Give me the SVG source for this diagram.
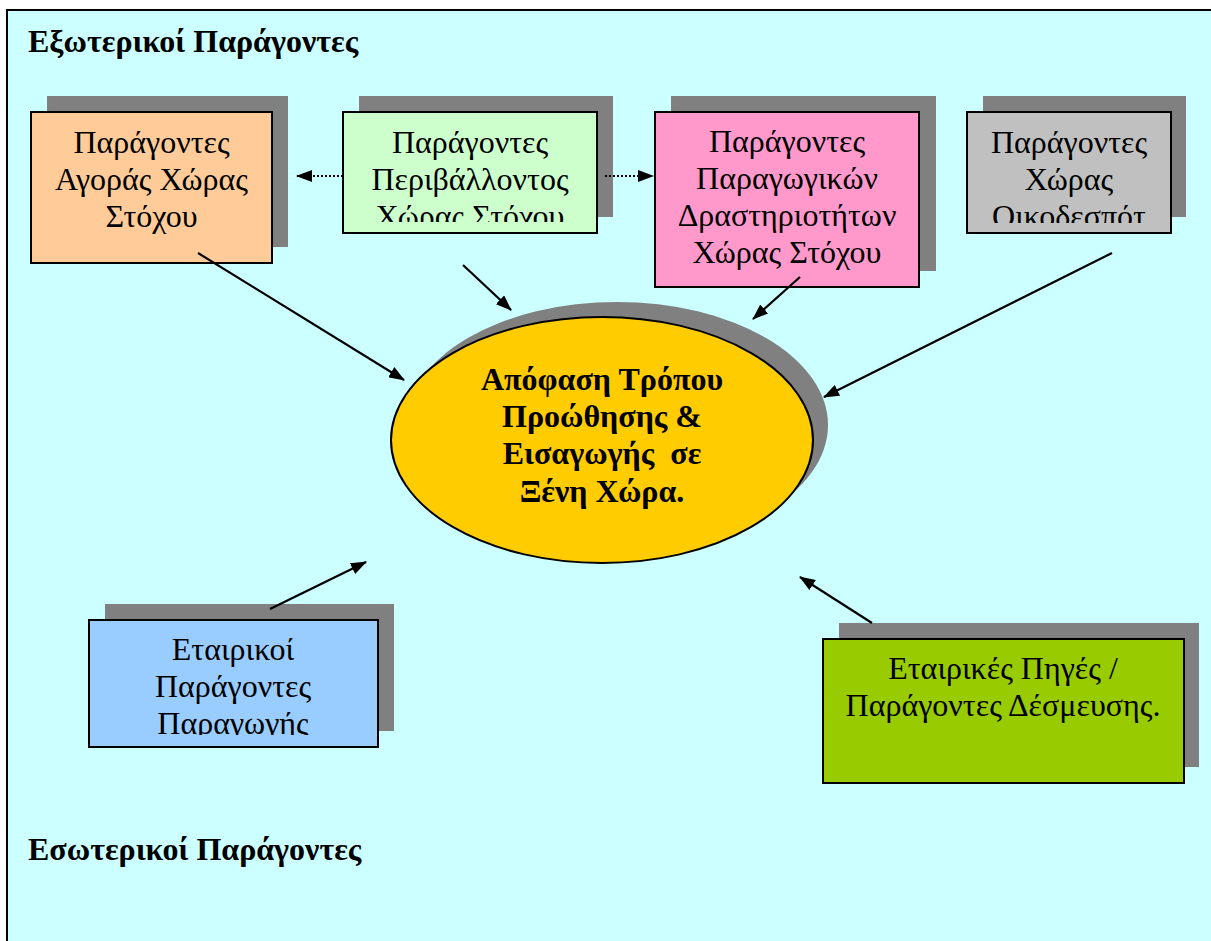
<svg xmlns="http://www.w3.org/2000/svg" width="1211" height="941" viewBox="0 0 1211 941">
<style>
.box{stroke:#000;stroke-width:2}
.shadow{fill:#808080}
.t{font-family:"Liberation Serif","Times New Roman",serif;font-size:32px;fill:#000;text-anchor:middle}
.b{font-family:"Liberation Serif","Times New Roman",serif;font-size:32px;font-weight:bold;fill:#000}
.c{stroke:#000;stroke-width:2.2;fill:none}
.d{stroke:#000;stroke-width:2;fill:none;stroke-dasharray:2 2}
</style>
<defs>
<marker id="ah" viewBox="0 0 16 12" refX="15" refY="6" markerWidth="16" markerHeight="12" markerUnits="userSpaceOnUse" orient="auto">
<path d="M0,0 L16,6 L0,12 Z" fill="#000"/>
</marker>
<clipPath id="cg"><rect x="343" y="112" width="254" height="110"/></clipPath>
<clipPath id="cy"><rect x="967" y="112" width="204" height="111"/></clipPath>
<clipPath id="cb"><rect x="89" y="620" width="289" height="115"/></clipPath>
</defs>
<rect x="7" y="10" width="1220" height="950" fill="#CCFFFF" stroke="#000" stroke-width="2"/>
<g id="label-ext"><text class="b" x="28" y="52" font-size="30">Εξωτερικοί Παράγοντες</text></g>
<g id="label-int"><text class="b" x="28" y="860" font-size="30">Εσωτερικοί Παράγοντες</text></g>
<g id="node-market">
<rect class="shadow" x="47" y="96" width="241" height="151"/>
<rect class="box" x="31" y="112" width="241" height="151" fill="#FFCC99"/>
<text class="t" x="151.5" y="153">Παράγοντες</text>
<text class="t" x="151.5" y="190">Αγοράς Χώρας</text>
<text class="t" x="151.5" y="227">Στόχου</text>
</g>
<g id="node-env">
<rect class="shadow" x="359" y="96" width="254" height="121"/>
<rect class="box" x="343" y="112" width="254" height="121" fill="#CCFFCC"/>
<g clip-path="url(#cg)">
<text class="t" x="470" y="153">Παράγοντες</text>
<text class="t" x="470" y="190">Περιβάλλοντος</text>
<text class="t" x="470" y="227">Χώρας Στόχου</text>
</g>
</g>
<g id="node-prod">
<rect class="shadow" x="671" y="96" width="265" height="175"/>
<rect class="box" x="655" y="112" width="264" height="175" fill="#FF99CC"/>
<text class="t" x="787" y="152">Παράγοντες</text>
<text class="t" x="787" y="189">Παραγωγικών</text>
<text class="t" x="787" y="226">Δραστηριοτήτων</text>
<text class="t" x="787" y="263">Χώρας Στόχου</text>
</g>
<g id="node-host">
<rect class="shadow" x="983" y="96" width="203" height="121"/>
<rect class="box" x="967" y="112" width="204" height="121" fill="#C0C0C0"/>
<g clip-path="url(#cy)">
<text class="t" x="1069" y="153">Παράγοντες</text>
<text class="t" x="1069" y="190">Χώρας</text>
<text class="t" x="1069" y="227">Οικοδεσπότ</text>
</g>
</g>
<g id="node-decision">
<ellipse cx="617" cy="425" rx="211" ry="123" fill="#808080"/>
<ellipse cx="602" cy="440" rx="211" ry="123" fill="#FFCC00" stroke="#000" stroke-width="2"/>
<text class="b" x="602" y="390" text-anchor="middle">Απόφαση Τρόπου</text>
<text class="b" x="602" y="427" text-anchor="middle">Προώθησης &amp;</text>
<text class="b" x="602" y="464" text-anchor="middle" xml:space="preserve">Εισαγωγής  σε</text>
<text class="b" x="602" y="502" text-anchor="middle">Ξένη Χώρα.</text>
</g>
<g id="node-company">
<rect class="shadow" x="105" y="604" width="289" height="127"/>
<rect class="box" x="89" y="620" width="289" height="127" fill="#99CCFF"/>
<g clip-path="url(#cb)">
<text class="t" x="233" y="660">Εταιρικοί</text>
<text class="t" x="233" y="697">Παράγοντες</text>
<text class="t" x="233" y="734">Παραγωγής</text>
</g>
</g>
<g id="node-resources">
<rect class="shadow" x="839" y="623" width="360" height="144"/>
<rect class="box" x="823" y="639" width="361" height="144" fill="#99CC00"/>
<text class="t" x="1003" y="679">Εταιρικές Πηγές /</text>
<text class="t" x="1003" y="716">Παράγοντες Δέσμευσης.</text>
</g>
<g id="connectors">
<line class="d" x1="343" y1="176" x2="297" y2="176" marker-end="url(#ah)"/>
<line class="d" x1="605" y1="176" x2="653" y2="176" marker-end="url(#ah)"/>
<line class="c" x1="198" y1="253" x2="404" y2="380" marker-end="url(#ah)"/>
<line class="c" x1="463" y1="265" x2="511" y2="310" marker-end="url(#ah)"/>
<line class="c" x1="800" y1="277" x2="753" y2="319" marker-end="url(#ah)"/>
<line class="c" x1="1112" y1="253" x2="824" y2="397" marker-end="url(#ah)"/>
<line class="c" x1="270" y1="609" x2="366" y2="562" marker-end="url(#ah)"/>
<line class="c" x1="872" y1="623" x2="800" y2="577" marker-end="url(#ah)"/>
</g>
</svg>
